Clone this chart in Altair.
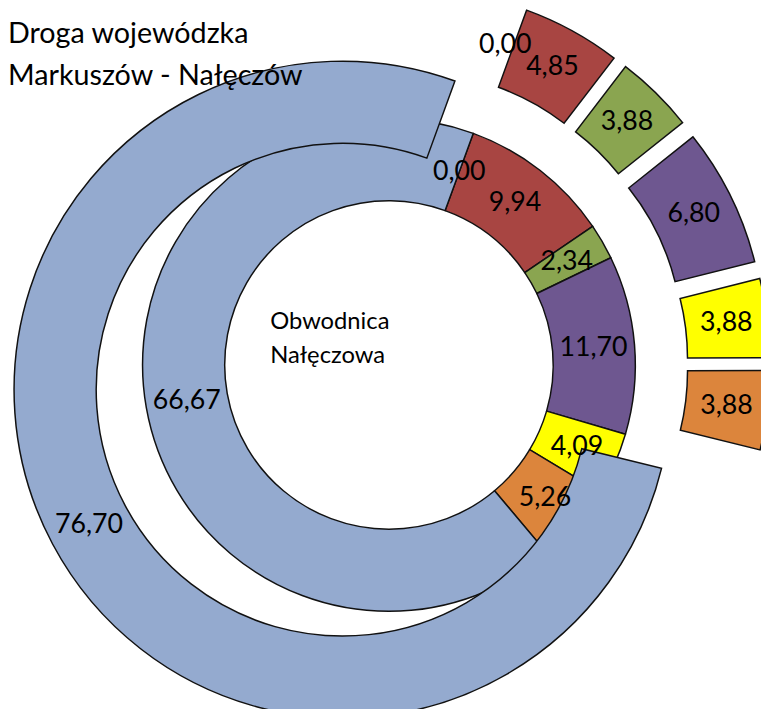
import math
import pandas as pd
import altair as alt

# ---- data ----
categories = ["k0", "k1", "k2", "k3", "k4", "k5", "k6"]
inner_values = [0.00, 9.94, 2.34, 11.70, 4.09, 5.26, 66.67]   # Obwodnica Nałęczowa
outer_values = [0.00, 4.85, 3.88, 6.80, 3.88, 3.88, 76.70]    # Droga wojewódzka
colors = ["#94AACF", "#A84542", "#8AA550", "#6E5790", "#FFFF00", "#DC853C", "#94AACF"]
inner_name = "Obwodnica\nNałęczowa"
outer_name = "Droga wojewódzka\nMarkuszów - Nałęczów"

# ---- geometry / style ----
W, H = 761, 701
CX, CY = 385, 357          # pie centre in chart pixels
R = 332.0                  # outer radius in pixels
HOLE, SPLIT = 0.5, 0.75    # relative radii
EXPLODE = 0.16             # outer ring explosion (relative to R)
START = math.radians(20)   # angle of first slice

def ring(values, r_in, r_out, explode):
    tot = sum(values)
    rows, cum = [], 0.0
    for cat, v in zip(categories, values):
        t0 = cum / tot
        cum += v
        t1 = cum / tot
        a = START + (t0 + t1) / 2 * 2 * math.pi
        ex = explode * math.sin(a)
        ey = explode * math.cos(a)
        rm = (r_in + r_out) / 2
        rows.append(dict(cat=cat, value=v, t0=t0, t1=t1, ex=ex, ey=ey,
                         lx=ex + rm * math.sin(a), ly=ey + rm * math.cos(a),
                         label=f"{v:.2f}".replace(".", ",")))
    return pd.DataFrame(rows)

inner = ring(inner_values, HOLE, SPLIT, 0.0)
outer = ring(outer_values, SPLIT, 1.0, EXPLODE)

xs = alt.Scale(domain=[-CX / R, (W - CX) / R], nice=False, zero=False)
ys = alt.Scale(domain=[(CY - H) / R, CY / R], nice=False, zero=False)
ts = alt.Scale(domain=[0, 1], range=[START, START + 2 * math.pi])
cs = alt.Scale(domain=categories, range=colors)

def arcs(df, r_in, r_out):
    return alt.Chart(df[df["value"] > 0]).mark_arc(
        radius=r_out * R, radius2=r_in * R, stroke="#111111", strokeWidth=1.5
    ).encode(
        theta=alt.Theta("t0:Q", scale=ts, stack=False),
        theta2="t1:Q",
        x=alt.X("ex:Q", scale=xs, axis=None),
        y=alt.Y("ey:Q", scale=ys, axis=None),
        color=alt.Color("cat:N", scale=cs, legend=None),
    )

def labels(df):
    return alt.Chart(df).mark_text(
        font="Lato", fontSize=27, color="black", align="center", baseline="middle"
    ).encode(
        x=alt.X("lx:Q", scale=xs, axis=None),
        y=alt.Y("ly:Q", scale=ys, axis=None),
        text="label:N",
    )

ann = pd.DataFrame({"t": [inner_name, outer_name], "kind": ["inner", "outer"]})
center_txt = alt.Chart(ann[ann.kind == "inner"]).mark_text(
    font="Lato", fontSize=24, align="left", baseline="alphabetic",
    lineBreak="\n", lineHeight=34, color="black"
).encode(x=alt.value(265), y=alt.value(321), text="t:N")
title_txt = alt.Chart(ann[ann.kind == "outer"]).mark_text(
    font="Lato", fontSize=29, align="left", baseline="alphabetic",
    lineBreak="\n", lineHeight=42, color="black"
).encode(x=alt.value(0), y=alt.value(32), text="t:N")

chart = alt.layer(
    arcs(inner, HOLE, SPLIT),
    arcs(outer, SPLIT, 1.0),
    labels(inner),
    labels(outer),
    center_txt,
    title_txt,
).properties(
    width=W, height=H, padding=0, autosize=alt.AutoSizeParams(type="none"),
    background="white",
).configure_view(stroke=None)

chart.save("out.html", embed_options={"renderer": "svg", "actions": False})
